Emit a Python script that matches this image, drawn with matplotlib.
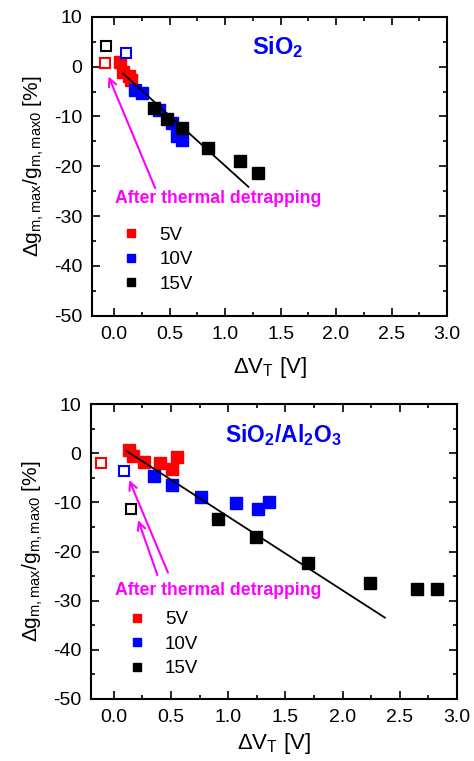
import numpy as np
import matplotlib
matplotlib.use('Agg')
import matplotlib.pyplot as plt
from matplotlib.lines import Line2D
from matplotlib.ticker import MultipleLocator

plt.rcParams['font.family'] = ['Liberation Sans', 'DejaVu Sans']
plt.rcParams['mathtext.fontset'] = 'custom'
plt.rcParams['mathtext.rm'] = 'Liberation Sans'
plt.rcParams['mathtext.it'] = 'Liberation Sans'
plt.rcParams['mathtext.bf'] = 'Liberation Sans:bold'

# --- SiO2 stack ---
sio2_5v_x = [0.05, 0.08, 0.13, 0.15]
sio2_5v_y = [0.9, -1.0, -1.9, -2.7]
sio2_10v_x = [0.19, 0.25, 0.40, 0.52, 0.565, 0.61]
sio2_10v_y = [-4.7, -5.3, -8.7, -11.3, -14.0, -14.7]
sio2_15v_x = [0.36, 0.475, 0.61, 0.85, 1.135, 1.30]
sio2_15v_y = [-8.3, -10.5, -12.35, -16.4, -18.9, -21.4]
# after thermal detrapping (5V, 10V, 15V)
sio2_det_x = [-0.08, 0.105, -0.07]
sio2_det_y = [0.7, 2.7, 4.2]
sio2_fit = (0.2, -20.1)
sio2_fit_range = (0.08, 1.21)

# --- SiO2/Al2O3 stack ---
hk_5v_x = [0.134, 0.17, 0.265, 0.40, 0.506, 0.555]
hk_5v_y = [0.64, -0.58, -1.73, -2.06, -3.28, -0.85]
hk_10v_x = [0.352, 0.51, 0.765, 1.064, 1.26, 1.354]
hk_10v_y = [-4.58, -6.47, -8.98, -10.2, -11.35, -9.86]
hk_15v_x = [0.913, 1.244, 1.694, 2.24, 2.65, 2.83]
hk_15v_y = [-13.45, -16.98, -22.27, -26.34, -27.7, -27.6]
hk_det_x = [-0.113, 0.09, 0.154]
hk_det_y = [-2.06, -3.56, -11.4]
hk_fit = (2.1, -15.0)
hk_fit_range = (0.11, 2.37)

colors = ['#ff0000', '#0000ff', '#000000']
labels = ['5V', '10V', '15V']
MAG = '#ff00ff'

fig = plt.figure(figsize=(4.74, 7.61), dpi=100)
ax1 = fig.add_axes([0.194, 0.585, 0.749, 0.393])
ax2 = fig.add_axes([0.192, 0.0815, 0.772, 0.3875])


def panel(ax, series, det, fit, fit_rng, title, title_fs, arrows, txt_xy,
          title_xy, leg_anchor, xlab_pad):
    for (xs, ys), c in zip(series, colors):
        ax.plot(xs, ys, 's', color=c, ms=8, mec=c, ls='none')
    for xv, yv, c in zip(det[0], det[1], colors):
        ax.plot(xv, yv, 's', mfc='white', mec=c, ms=6.5, mew=1.5, ls='none')
    xf = np.array(fit_rng)
    ax.plot(xf, fit[0] + fit[1] * xf, color='black', lw=1.3)
    for (tx, ty), (hx, hy) in arrows:
        ax.annotate('', xy=(hx, hy), xytext=(tx, ty),
                    arrowprops=dict(arrowstyle='->', color=MAG, lw=1.5,
                                    shrinkA=0, shrinkB=0, mutation_scale=14))
    ax.text(txt_xy[0], txt_xy[1], 'After thermal detrapping', color=MAG,
            fontsize=12.7, fontweight='bold', va='center', ha='left')
    ax.text(title_xy[0], title_xy[1], title, color='#0000ff', fontsize=title_fs,
            fontweight='bold', va='center', ha='left')
    handles = [Line2D([], [], marker='s', color=c, ls='none', ms=6) for c in colors]
    ax.legend(handles, labels, loc='upper left', bbox_to_anchor=leg_anchor,
              frameon=False, fontsize=13.5, handlelength=0.6, handletextpad=1.2,
              labelspacing=0.4, borderpad=0)
    ax.set_xlim(-0.2, 3.0)
    ax.set_ylim(-50, 10)
    ax.xaxis.set_major_locator(MultipleLocator(0.5))
    ax.xaxis.set_minor_locator(MultipleLocator(0.25))
    ax.yaxis.set_major_locator(MultipleLocator(10))
    ax.yaxis.set_minor_locator(MultipleLocator(5))
    ax.tick_params(which='both', direction='in', top=True, right=True,
                   labelsize=14, width=1.2)
    ax.tick_params(which='major', length=6, pad=7)
    ax.tick_params(which='minor', length=3)
    ax.set_xticklabels([f'{v:.1f}' for v in ax.get_xticks()])
    ax.set_yticklabels([f'{v:.0f}' for v in ax.get_yticks()])
    for s in ax.spines.values():
        s.set_linewidth(1.5)
    ax.set_xlabel(r'$\Delta$V$_\mathregular{T}$ [V]', fontsize=16, labelpad=xlab_pad)
    ax.set_ylabel(r'$\Delta\mathregular{g}_{\mathregular{m,max}}/\mathregular{g}_{\mathregular{m,max0}}$ [%]',
                  fontsize=15, labelpad=6)


panel(ax1,
      [(sio2_5v_x, sio2_5v_y), (sio2_10v_x, sio2_10v_y), (sio2_15v_x, sio2_15v_y)],
      (sio2_det_x, sio2_det_y), sio2_fit, sio2_fit_range,
      r'SiO$_\mathbf{2}$', 17,
      [((0.37, -24.4), (-0.05, -2.0))],
      (0.01, -26.4), (1.24, 4.0), (0.069, 0.33), 9)

panel(ax2,
      [(hk_5v_x, hk_5v_y), (hk_10v_x, hk_10v_y), (hk_15v_x, hk_15v_y)],
      (hk_det_x, hk_det_y), hk_fit, hk_fit_range,
      r'SiO$_\mathbf{2}$/Al$_\mathbf{2}$O$_\mathbf{3}$', 16.5,
      [((0.473, -24.3), (0.134, -5.46)), ((0.381, -24.8), (0.212, -13.6))],
      (0.011, -28.0), (0.976, 3.7), (0.084, 0.33), 4)

fig.savefig('out.png', dpi=100)
